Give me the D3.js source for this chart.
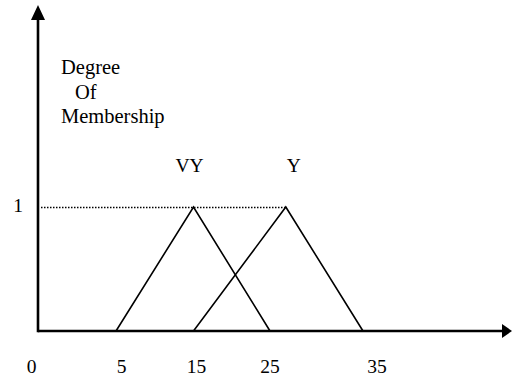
<!DOCTYPE html>
<html>
<head>
<meta charset="utf-8">
<script src="https://cdn.jsdelivr.net/npm/d3@7"></script>
</head>
<body style="margin:0">
<script>
// ---- data ----
const xTickValues = [0, 5, 15, 25, 35];
const xTickLabels = ["0", "5", "15", "25", "35"];
const yTickValues = [1];
const yTickLabels = ["1"];
const setNames = ["VY", "Y"];
const vyPoints = [[5, 0], [15, 1], [25, 0]];
const yPoints = [[15, 0], [26.7, 1], [35, 0]];
const yAxisTitle = ["Degree", "Of", "Membership"];

// ---- layout ----
const W = 512, H = 379;
const svg = d3.select("body").append("svg").attr("width", W).attr("height", H)
  .style("display", "block");

// hand-drawn figure: piecewise linear scale
const x = d3.scaleLinear().domain([0, 5, 15, 25, 35]).range([38, 116, 193.5, 270, 363]);
const xLabel = d3.scaleLinear().domain([0, 5, 15, 25, 35]).range([31.5, 121.5, 196.5, 270, 377]);
const y = d3.scaleLinear().domain([0, 1]).range([331, 207]);

const x0 = x(0), y0 = y(0);

// axes
svg.append("line").attr("x1", x0).attr("y1", y0).attr("x2", 503).attr("y2", y0)
  .attr("stroke", "#000").attr("stroke-width", 2.6);
svg.append("line").attr("x1", x0).attr("y1", y0 + 1.3).attr("x2", x0).attr("y2", 19)
  .attr("stroke", "#000").attr("stroke-width", 2.6);
// arrow heads
svg.append("path").attr("d", `M512,${y0} L502,${y0 - 7} L502,${y0 + 7} Z`).attr("fill", "#000");
svg.append("path").attr("d", `M${x0},5 L${x0 - 7},20 L${x0 + 7},20 Z`).attr("fill", "#000");

function txt(sel, size) {
  return sel.style("font-family", `"Liberation Serif"`).attr("font-size", size || 19.5);
}

// x tick labels
txt(svg.selectAll("text.xt").data(xTickValues).join("text")
  .attr("class", "xt")
  .attr("x", d => xLabel(d)).attr("y", 373)
  .attr("text-anchor", "middle"))
  .text((d, i) => xTickLabels[i]);

// y tick labels
txt(svg.selectAll("text.yt").data(yTickValues).join("text")
  .attr("class", "yt")
  .attr("x", 18).attr("y", d => y(d) + 5)
  .attr("text-anchor", "middle"))
  .text((d, i) => yTickLabels[i]);

// dotted reference line at membership 1
svg.append("line")
  .attr("x1", x0 + 3).attr("y1", y(1) + 0.5).attr("x2", x(yPoints[1][0])).attr("y2", y(1) + 0.5)
  .attr("stroke", "#000").attr("stroke-width", 1.3).attr("stroke-dasharray", "1.5,1.5");

// triangles
const line = d3.line().x(d => x(d[0])).y(d => y(d[1]));
[vyPoints, yPoints].forEach(pts => {
  svg.append("path").attr("d", line(pts))
    .attr("fill", "none").attr("stroke", "#000").attr("stroke-width", 1.6)
    .attr("stroke-linejoin", "miter");
});

// set labels above peaks
const peaks = [vyPoints[1], yPoints[1]];
const labelDx = [-4, 8];
txt(svg.selectAll("text.set").data(setNames).join("text")
  .attr("class", "set")
  .attr("x", (d, i) => x(peaks[i][0]) + labelDx[i]).attr("y", 172)
  .attr("text-anchor", "middle"))
  .text(d => d);

// y axis title
const titleX = [61, 75, 61];
yAxisTitle.forEach((s, i) => {
  txt(svg.append("text"), 20.5).attr("x", titleX[i]).attr("y", 74 + i * 24.5).text(s);
});
</script>
</body>
</html>
